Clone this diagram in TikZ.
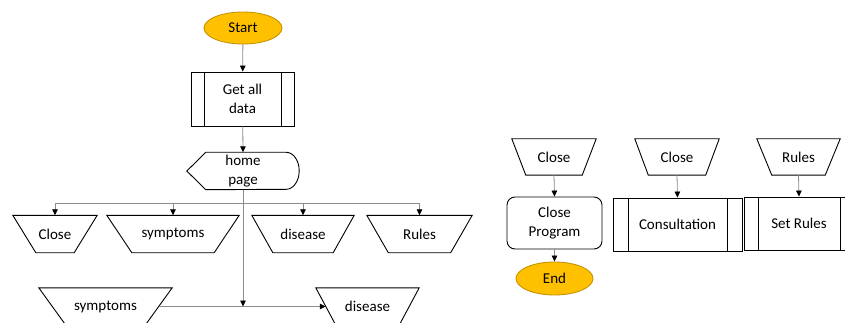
\documentclass[tikz,border=0pt]{standalone}
\usepackage{fontspec}
\setmainfont{Carlito}
\usetikzlibrary{shapes.geometric,arrows.meta}

\definecolor{termfill}{HTML}{FFC000}
\definecolor{termline}{HTML}{C49300}
\definecolor{linkgray}{HTML}{8C8C8C}

\tikzset{
  every node/.style={font=\fontsize{15}{19.5}\selectfont, align=center},
  shp/.style={draw=black, line width=0.9pt},
  terminal/.style={shp, ellipse, fill=termfill, draw=termline, inner sep=0pt},
  subproc/.style={shp, rectangle, inner sep=0pt,
    path picture={\draw[line width=0.9pt]
      ([xshift=#1]path picture bounding box.north west) -- ([xshift=#1]path picture bounding box.south west)
      ([xshift=-#1]path picture bounding box.north east) -- ([xshift=-#1]path picture bounding box.south east);}},
  % manual input: wide top edge, each side slanting in by #2
  manin/.style 2 args={rectangle, inner sep=0pt, minimum width=#1, minimum height=37pt,
    append after command={\pgfextra{\draw[shp]
      (\tikzlastnode.north west) -- (\tikzlastnode.north east)
      -- ([xshift=-#2]\tikzlastnode.south east)
      -- ([xshift=#2]\tikzlastnode.south west) -- cycle;}}},
  roundbox/.style={shp, rounded corners=8pt, inner sep=0pt},
  conn/.style={draw=linkgray, line width=0.8pt,
    -{Triangle[length=6pt,width=5.5pt,color=black]}},
}

\begin{document}
\begin{tikzpicture}[x=1pt, y=-1pt]
\useasboundingbox (0,0) rectangle (845,323);
\clip (0,0) rectangle (845,323);

% main column
\node[terminal, minimum width=78pt, minimum height=32pt] (start) at (243,28) {Start};
\node[subproc=13pt, minimum width=103pt, minimum height=54pt] (getdata) at (242.5,99) {Get all\\data};
\node[minimum width=112pt, minimum height=37pt, inner sep=0pt] (home) at (243,171) {home\\page};
\draw[shp] (home.west) -- ([xshift=19pt]home.north west)
  -- ([xshift=-13pt]home.north east)
  arc[start angle=90, end angle=-90, x radius=13pt, y radius=18.5pt]
  -- ([xshift=19pt]home.south west) -- cycle;

% first row of inputs
\node[manin={84pt}{23pt}] (close1) at (55,234) {Close};
\node[manin={132pt}{25pt}] (symp1) at (173,234) {symptoms};
\node[manin={102pt}{21pt}] (dis1) at (303,234) {disease};
\node[manin={105pt}{21.5pt}] (rules1) at (419.5,234) {Rules};

% second row of inputs
\node[manin={133pt}{27pt}] (symp2) at (105.5,306.5) {symptoms};
\node[manin={103pt}{20pt}] (dis2) at (367.5,306.5) {disease};

% right-hand branches
\node[manin={84pt}{14pt}, minimum height=36pt] (closeA) at (554,157) {Close};
\node[manin={84pt}{13.5pt}, minimum height=36pt] (closeB) at (677,157) {Close};
\node[manin={83pt}{15pt}, minimum height=36pt] (rulesA) at (798.5,157) {Rules};
\node[roundbox, minimum width=95pt, minimum height=52pt] (cprog) at (554.5,223) {Close\\Program};
\node[terminal, minimum width=77pt, minimum height=33pt] (end) at (554.5,278.5) {End};
\node[subproc=15pt, minimum width=129pt, minimum height=53pt] (consult) at (677.5,224.5) {Consultation};
\node[subproc=14pt, minimum width=110pt, minimum height=53pt] (setrules) at (799,223.5) {Set Rules};

% connectors
\coordinate (split) at (243,203);
\draw[conn] (start) -- (getdata);
\draw[conn] (getdata) -- (home.north);
\draw[conn] (split) -| (close1.north);
\draw[conn] (split) -| (symp1.north);
\draw[conn] (split) -| (dis1.north);
\draw[conn] (split) -| (rules1.north);
\draw[conn] (home.south) -- (home.south |- symp2.east);
\draw[conn] ([xshift=-13pt]symp2.east) -- ([xshift=10pt]dis2.west);
\draw[conn] (closeA.south) -- (cprog.north);
\draw[conn] (cprog.south) -- (end.north);
\draw[conn] (closeB.south) -- (consult.north);
\draw[conn] (rulesA.south) -- (setrules.north);
\end{tikzpicture}
\end{document}
